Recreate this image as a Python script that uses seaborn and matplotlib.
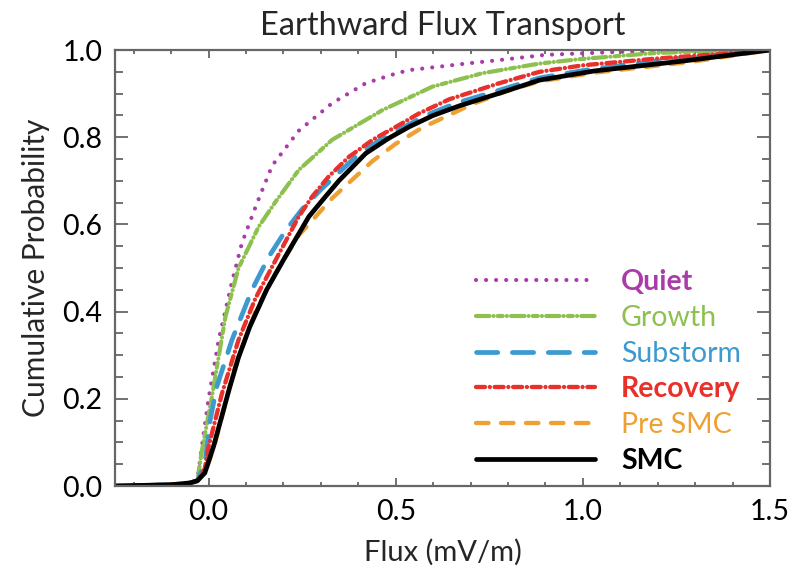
import numpy as np
import pandas as pd
import matplotlib
matplotlib.use("Agg")
import matplotlib.pyplot as plt
from matplotlib.ticker import MultipleLocator, FormatStrFormatter
import seaborn as sns

# ---------------- data ----------------
quiet_x = [-0.25, -0.10, -0.05, -0.03, -0.018, 0.0, 0.027, 0.0625, 0.089, 0.129, 0.17,
           0.241, 0.33, 0.42, 0.50, 0.536, 0.688, 0.777, 0.90, 1.10, 1.30, 1.50]
quiet_y = [0.0, 0.003, 0.007, 0.013, 0.09, 0.20, 0.335, 0.468, 0.557, 0.648, 0.735,
           0.815, 0.878, 0.924, 0.946, 0.954, 0.969, 0.977, 0.989, 0.996, 0.999, 1.0]

growth_x = [-0.25, -0.10, -0.05, -0.03, -0.018, 0.009, 0.045, 0.080, 0.134, 0.179, 0.241,
            0.33, 0.464, 0.598, 0.732, 0.884, 0.99, 1.19, 1.35, 1.50]
growth_y = [0.0, 0.003, 0.007, 0.013, 0.08, 0.205, 0.388, 0.50, 0.595, 0.652, 0.725,
            0.794, 0.862, 0.916, 0.947, 0.969, 0.979, 0.993, 0.998, 1.0]

substorm_x = [-0.25, -0.10, -0.05, -0.03, -0.01, 0.004, 0.022, 0.0625, 0.116, 0.161, 0.205,
              0.25, 0.30, 0.393, 0.455, 0.509, 0.58, 0.661, 0.777, 0.884, 1.0, 1.116,
              1.25, 1.366, 1.50]
substorm_y = [0.0, 0.003, 0.007, 0.012, 0.05, 0.15, 0.228, 0.335, 0.45, 0.526, 0.585,
              0.635, 0.68, 0.755, 0.792, 0.817, 0.85, 0.878, 0.908, 0.936, 0.953, 0.966,
              0.98, 0.989, 1.0]

recovery_x = [-0.25, -0.10, -0.05, -0.03, -0.01, 0.0, 0.036, 0.080, 0.125, 0.179, 0.241,
              0.277, 0.321, 0.375, 0.44, 0.509, 0.563, 0.643, 0.777, 0.884, 1.0, 1.19,
              1.35, 1.50]
recovery_y = [0.0, 0.003, 0.007, 0.012, 0.04, 0.09, 0.213, 0.335, 0.43, 0.518, 0.618,
              0.664, 0.71, 0.755, 0.795, 0.828, 0.855, 0.887, 0.924, 0.950, 0.965, 0.98,
              0.99, 1.0]

presmc_x = [-0.25, -0.10, -0.05, -0.03, -0.01, 0.015, 0.071, 0.125, 0.179, 0.241, 0.33,
            0.4375, 0.50, 0.571, 0.705, 0.80, 0.884, 1.03, 1.29, 1.50]
presmc_y = [0.0, 0.003, 0.007, 0.012, 0.03, 0.09, 0.275, 0.40, 0.488, 0.575, 0.66,
            0.745, 0.785, 0.822, 0.876, 0.907, 0.928, 0.948, 0.973, 1.0]

smc_x = [-0.25, -0.10, -0.05, -0.03, -0.01, 0.013, 0.056, 0.08, 0.11, 0.155, 0.205, 0.268,
         0.3125, 0.348, 0.42, 0.48, 0.536, 0.60, 0.670, 0.777, 0.884, 1.03, 1.27, 1.50]
smc_y = [0.0, 0.003, 0.007, 0.012, 0.03, 0.09, 0.225, 0.295, 0.365, 0.45, 0.526, 0.618,
         0.664, 0.70, 0.763, 0.797, 0.824, 0.85, 0.872, 0.901, 0.931, 0.952, 0.975, 1.0]

labels = ["Quiet", "Growth", "Substorm", "Recovery", "Pre SMC", "SMC"]
x_ticks = [0.0, 0.5, 1.0, 1.5]
y_ticks = [0.0, 0.2, 0.4, 0.6, 0.8, 1.0]

# ---------------- style ----------------
sns.set_style("ticks")
plt.rcParams["font.family"] = ["Lato", "DejaVu Sans"]

colors = ["#AA3CAA", "#8DC04F", "#3D9AD1", "#E8312B", "#EFA033", "#000000"]
linewidths = [3.0, 3.0, 3.4, 3.1, 3.1, 3.4]
linestyles = [
    (0, (0.01, 2.4)),                                  # dotted
    (0, (3.2, 1.0, 0.01, 1.0, 1.2, 1.0, 0.01, 1.0)),   # dash-dot-dot
    (0, (4.5, 3.1)),                                   # long dash
    (0, (2.1, 1.1, 0.01, 1.1)),                        # dash-dot
    (0, (2.9, 2.9)),                                   # dash
    "-",                                               # solid
]
bold = [True, False, False, True, False, True]

series = [(quiet_x, quiet_y), (growth_x, growth_y), (substorm_x, substorm_y),
          (recovery_x, recovery_y), (presmc_x, presmc_y), (smc_x, smc_y)]

fig = plt.figure(figsize=(7.98, 5.72), dpi=100)
ax = fig.add_axes([0.1441, 0.1503, 0.8208, 0.7622])

for (xs, ys), lab, c, lw, ls in zip(series, labels, colors, linewidths, linestyles):
    df = pd.DataFrame({"x": xs, "y": ys})
    sns.lineplot(data=df, x="x", y="y", ax=ax, color=c, lw=lw, linestyle=ls,
                 estimator=None, sort=False, label=lab,
                 dash_capstyle="round", solid_capstyle="round",
                 solid_joinstyle="round", dash_joinstyle="round")

ax.set_xlim(-0.25, 1.5)
ax.set_ylim(0.0, 1.0)
ax.set_xticks(x_ticks)
ax.set_yticks(y_ticks)
ax.xaxis.set_minor_locator(MultipleLocator(0.1))
ax.yaxis.set_minor_locator(MultipleLocator(0.05))
ax.xaxis.set_major_formatter(FormatStrFormatter("%.1f"))
ax.yaxis.set_major_formatter(FormatStrFormatter("%.1f"))

spine_c = "#666666"
for s in ax.spines.values():
    s.set_visible(True)
    s.set_color(spine_c)
    s.set_linewidth(1.6)

ax.tick_params(which="both", direction="in", top=True, right=True, color=spine_c,
               width=1.3, labelsize=20.5, labelcolor="black")
ax.tick_params(axis="x", which="major", length=6, pad=9)
ax.tick_params(axis="x", which="minor", length=3)
ax.tick_params(axis="y", which="major", length=9.5, pad=9)
ax.tick_params(axis="y", which="minor", length=6)

ax.set_xlabel("Flux (mV/m)", fontsize=21, labelpad=10)
ax.set_ylabel("Cumulative Probability", fontsize=21.5, labelpad=9)
ax.set_title("Earthward Flux Transport", fontsize=23.5, pad=11)

leg = ax.legend(loc="upper left", bbox_to_anchor=(0.551, 0.497), frameon=False,
                fontsize=20.5, handlelength=4.2, handletextpad=0.9, labelspacing=0.34,
                borderpad=0, borderaxespad=0)
for txt, c, b in zip(leg.get_texts(), colors, bold):
    txt.set_color(c)
    if b:
        txt.set_fontweight("bold")

fig.savefig("out.png", dpi=100)
